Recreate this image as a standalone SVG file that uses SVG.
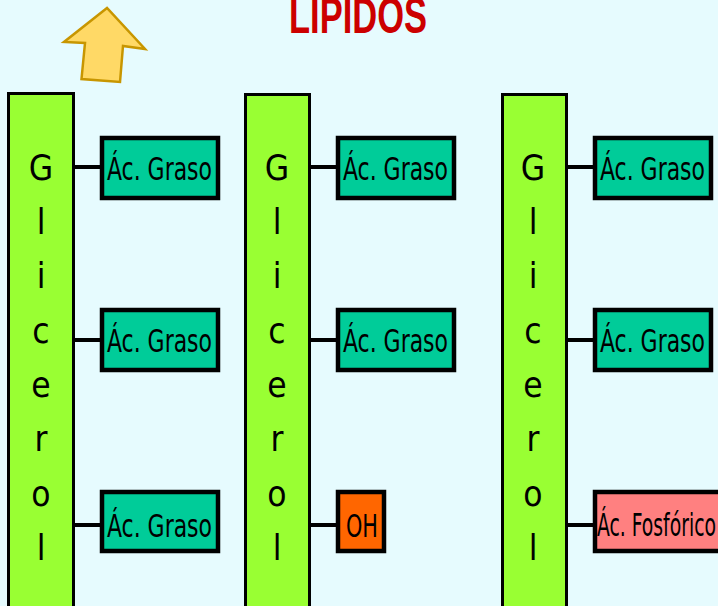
<svg xmlns="http://www.w3.org/2000/svg" width="718" height="606" viewBox="0 0 718 606">
<style>
.bg{fill:#E6FBFE}
.gly{fill:#99FF33;stroke:#000;stroke-width:3}
.fa{fill:#00CC99;stroke:#000;stroke-width:4.5}
.oh{fill:#FF6600;stroke:#000;stroke-width:4.5}
.ph{fill:#FF8080;stroke:#000;stroke-width:4.5}
.lbl{font-family:"DejaVu Sans Condensed","Liberation Sans Narrow","Liberation Sans",sans-serif;font-size:32px;fill:#000}
.gl{font-family:"DejaVu Sans Condensed","Liberation Sans Narrow","Liberation Sans",sans-serif;font-size:35px;fill:#000;text-anchor:middle}
.con line{stroke:#000;stroke-width:4}
</style>
<rect class="bg" x="0" y="0" width="718" height="606"/>
<g id="title">
<text x="358" y="33" text-anchor="middle" font-family="'Liberation Sans Narrow','Liberation Sans',sans-serif" font-size="50" font-weight="bold" fill="#CC0000" textLength="138" lengthAdjust="spacingAndGlyphs">LIPIDOS</text>
</g>
<g id="arrow">
<polygon points="107,8 64,42 85,43 81.5,79 120,82 123,46 145,49" fill="#FFD966" stroke="#C89600" stroke-width="2.5" stroke-linejoin="miter"/>
</g>
<g class="con" id="connectors">
<line x1="75" y1="167" x2="101" y2="167"/>
<line x1="75" y1="340" x2="101" y2="340"/>
<line x1="75" y1="525" x2="101" y2="525"/>
<line x1="311" y1="167" x2="337" y2="167"/>
<line x1="311" y1="340" x2="337" y2="340"/>
<line x1="311" y1="525" x2="337" y2="525"/>
<line x1="567" y1="167" x2="594" y2="167"/>
<line x1="567" y1="340" x2="594" y2="340"/>
<line x1="567" y1="525" x2="594" y2="525"/>
</g>
<g id="glicerol1">
<rect class="gly" x="8.5" y="93.5" width="65" height="530"/>
<text class="gl" x="41"><tspan x="41" y="180">G</tspan><tspan x="41" y="234">l</tspan><tspan x="41" y="288">i</tspan><tspan x="41" y="343">c</tspan><tspan x="41" y="397">e</tspan><tspan x="41" y="451">r</tspan><tspan x="41" y="506">o</tspan><tspan x="41" y="560">l</tspan></text>
</g>
<g id="glicerol2">
<rect class="gly" x="245.5" y="94.5" width="64" height="530"/>
<text class="gl" x="277"><tspan x="277" y="180">G</tspan><tspan x="277" y="234">l</tspan><tspan x="277" y="288">i</tspan><tspan x="277" y="343">c</tspan><tspan x="277" y="397">e</tspan><tspan x="277" y="451">r</tspan><tspan x="277" y="506">o</tspan><tspan x="277" y="560">l</tspan></text>
</g>
<g id="glicerol3">
<rect class="gly" x="502.5" y="94.5" width="64" height="530"/>
<text class="gl" x="533"><tspan x="533" y="180">G</tspan><tspan x="533" y="234">l</tspan><tspan x="533" y="288">i</tspan><tspan x="533" y="343">c</tspan><tspan x="533" y="397">e</tspan><tspan x="533" y="451">r</tspan><tspan x="533" y="506">o</tspan><tspan x="533" y="560">l</tspan></text>
</g>
<g id="graso1a"><rect class="fa" x="102" y="138" width="116" height="60"/><text class="lbl" x="107" y="180" textLength="105" lengthAdjust="spacingAndGlyphs">Ác. Graso</text></g>
<g id="graso1b"><rect class="fa" x="102" y="310" width="116" height="60"/><text class="lbl" x="107" y="352" textLength="105" lengthAdjust="spacingAndGlyphs">Ác. Graso</text></g>
<g id="graso1c"><rect class="fa" x="102" y="492" width="116" height="59"/><text class="lbl" x="107" y="537" textLength="105" lengthAdjust="spacingAndGlyphs">Ác. Graso</text></g>
<g id="graso2a"><rect class="fa" x="338" y="138" width="116" height="60"/><text class="lbl" x="343" y="180" textLength="105" lengthAdjust="spacingAndGlyphs">Ác. Graso</text></g>
<g id="graso2b"><rect class="fa" x="338" y="310" width="116" height="60"/><text class="lbl" x="343" y="352" textLength="105" lengthAdjust="spacingAndGlyphs">Ác. Graso</text></g>
<g id="oh"><rect class="oh" x="338" y="492" width="46" height="59"/><text class="lbl" x="346" y="537" textLength="32" lengthAdjust="spacingAndGlyphs">OH</text></g>
<g id="graso3a"><rect class="fa" x="595" y="138" width="116" height="60"/><text class="lbl" x="600" y="180" textLength="105" lengthAdjust="spacingAndGlyphs">Ác. Graso</text></g>
<g id="graso3b"><rect class="fa" x="595" y="310" width="116" height="60"/><text class="lbl" x="600" y="352" textLength="105" lengthAdjust="spacingAndGlyphs">Ác. Graso</text></g>
<g id="fosforico"><rect class="ph" x="595" y="492" width="130" height="59"/><text class="lbl" x="597" y="536" font-size="28" textLength="119" lengthAdjust="spacingAndGlyphs">Ác. Fosfórico</text></g>
</svg>
